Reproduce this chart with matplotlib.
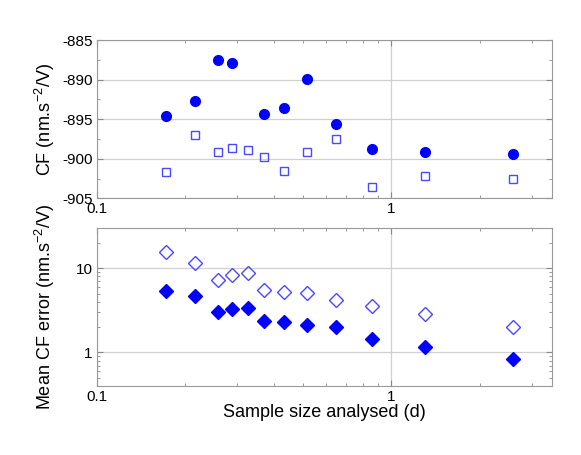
import numpy as np
import matplotlib
matplotlib.use('Agg')
import matplotlib.pyplot as plt
from matplotlib import ticker

plt.rcParams['font.family'] = ['Liberation Sans', 'DejaVu Sans']
plt.rcParams['mathtext.fontset'] = 'custom'
plt.rcParams['mathtext.rm'] = 'Liberation Sans'
plt.rcParams['mathtext.it'] = 'Liberation Sans:italic'
plt.rcParams['mathtext.bf'] = 'Liberation Sans:bold'
plt.rcParams['mathtext.default'] = 'rm'

# ---- data ----
sample_size = [0.172, 0.215, 0.259, 0.288, 0.325, 0.369, 0.431, 0.516, 0.648, 0.862, 1.297, 2.59]

# top panel: CF values (circle at 0.325 lies above the plotted range)
cf_filled = [-894.6, -892.7, -887.5, -887.9, -884.0, -894.4, -893.6, -889.9, -895.65, -898.8, -899.2, -899.4]
cf_open = [-901.7, -897.0, -899.15, -898.7, -898.85, -899.75, -901.5, -899.2, -897.55, -903.6, -902.2, -902.55]

# bottom panel: mean CF error
err_open = [15.5, 11.6, 7.26, 8.33, 8.7, 5.53, 5.28, 5.09, 4.24, 3.60, 2.87, 2.03]
err_filled = [5.38, 4.66, 3.05, 3.29, 3.38, 2.37, 2.33, 2.11, 2.0, 1.45, 1.16, 0.834]

W, H = 581, 455
fig = plt.figure(figsize=(W / 100, H / 100), dpi=100)

def px_axes(x0, y0, x1, y1):
    return fig.add_axes([x0 / W, 1 - y1 / H, (x1 - x0) / W, (y1 - y0) / H])

ax1 = px_axes(96.7, 40, 551.7, 198.3)
ax2 = px_axes(96.7, 228, 551.7, 386)

blue = '#0000ff'
light = '#4a4aff'

def style(ax):
    ax.set_xscale('log')
    ax.set_xlim(0.1, 3.5)
    ax.tick_params(which='both', direction='in', top=True, right=True,
                   color='#888888', labelsize=11, pad=3)
    ax.tick_params(which='major', length=4)
    ax.tick_params(which='minor', length=2.5)
    for sp in ax.spines.values():
        sp.set_color('#999999')
        sp.set_linewidth(0.8)
    ax.xaxis.set_major_locator(ticker.LogLocator(base=10))
    ax.xaxis.set_minor_locator(ticker.LogLocator(base=10, subs=np.arange(2, 10)))
    ax.xaxis.set_major_formatter(ticker.FuncFormatter(lambda v, p: f'{v:g}'))
    ax.xaxis.set_minor_formatter(ticker.NullFormatter())
    ax.grid(True, which='major', color='#d0d0d0', linewidth=0.9)
    ax.set_axisbelow(True)

# top panel
style(ax1)
ax1.plot(sample_size, cf_filled, 'o', color=blue, markersize=7, clip_on=True)
ax1.plot(sample_size, cf_open, 's', mfc='none', mec=light, mew=1.0, markersize=6)
ax1.set_ylim(-905, -885)
ax1.yaxis.set_major_locator(ticker.MultipleLocator(5))
ax1.yaxis.set_minor_locator(ticker.MultipleLocator(2.5))
ax1.yaxis.set_major_formatter(ticker.FuncFormatter(lambda v, p: f'{v:.0f}'))
ax1.set_ylabel('CF (nm.s$^{-2}$/V)', fontsize=13)

# bottom panel
style(ax2)
ax2.set_yscale('log')
ax2.plot(sample_size, err_open, 'D', mfc='none', mec=light, mew=1.0, markersize=7)
ax2.plot(sample_size, err_filled, 'D', color=blue, markersize=7)
ax2.set_ylim(0.4, 30)
ax2.yaxis.set_major_locator(ticker.LogLocator(base=10))
ax2.yaxis.set_minor_locator(ticker.LogLocator(base=10, subs=np.arange(2, 10)))
ax2.yaxis.set_major_formatter(ticker.FuncFormatter(lambda v, p: f'{v:g}'))
ax2.yaxis.set_minor_formatter(ticker.NullFormatter())
ax2.set_ylabel('Mean CF error (nm.s$^{-2}$/V)', fontsize=13)
ax2.set_xlabel('Sample size analysed (d)', fontsize=13, labelpad=0)

# both y labels share the same x position
ax1.yaxis.set_label_coords((57 - 96.7) / 455, 0.5)
ax2.yaxis.set_label_coords((57 - 96.7) / 455, 0.5)

fig.savefig('out.png', dpi=100)
